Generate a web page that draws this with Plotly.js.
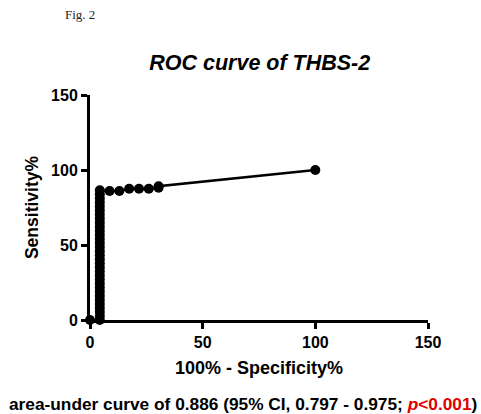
<!DOCTYPE html>
<html>
<head>
<meta charset="utf-8">
<script src="https://cdn.plot.ly/plotly-3.0.1.min.js"></script>
<style>html,body{margin:0;padding:0;background:#fff;}#chart{width:481px;height:414px;}</style>
</head>
<body>
<div id="chart"></div>
<script>
// ROC curve points: 100% - Specificity% (x) and Sensitivity% (y)
var specX = [0, 4.35, 4.35, 4.35, 4.35, 4.35, 4.35, 4.35, 4.35, 4.35, 4.35, 4.35,
  4.35, 4.35, 4.35, 4.35, 4.35, 4.35, 4.35, 4.35, 4.35, 4.35, 4.35, 4.35, 4.35,
  4.35, 4.35, 4.35, 4.35, 4.35, 4.35, 4.35, 4.35, 4.35,
  8.70, 13.04, 17.39, 21.74, 26.09, 30.43, 30.43, 100];
var sensY = [0, 0, 2.7, 5.4, 8.1, 10.8, 13.5, 16.2, 18.9, 21.6, 24.3, 27,
  29.7, 32.4, 35.1, 37.8, 40.5, 43.2, 45.9, 48.6, 51.4, 54.1, 56.8, 59.5, 62.2,
  64.9, 67.6, 70.3, 73, 75.7, 78.4, 81.1, 83.8, 86.5,
  86.0, 86.0, 87.5, 87.5, 87.5, 88.2, 89.2, 100];
var tickVals = [0, 50, 100, 150];
var tickText = ['0', '50', '100', '150'];

var font = 'Liberation Sans, Arial, Helvetica, sans-serif';
var boldTicks = tickText.map(function (t) { return '<b>' + t + '</b>'; });

var trace = {
  x: specX, y: sensY, type: 'scatter', mode: 'lines+markers',
  line: {color: '#000', width: 2.5},
  marker: {color: '#000', size: 10},
  cliponaxis: false, showlegend: false, hoverinfo: 'none'
};

var layout = {
  width: 481, height: 414,
  margin: {l: 90, r: 53, t: 95, b: 94},
  paper_bgcolor: '#fff', plot_bgcolor: '#fff',
  font: {family: font, color: '#000'},
  title: {text: '<b><i>ROC curve of THBS-2</i></b>', font: {size: 21.5, family: font, color: '#000'},
          x: 0.54, xanchor: 'center', y: 0.85, yanchor: 'middle'},
  xaxis: {
    range: [0, 150], tickvals: tickVals, ticktext: boldTicks,
    showline: true, linewidth: 3, linecolor: '#000', mirror: false,
    ticks: 'outside', ticklen: 6, tickwidth: 3, tickcolor: '#000',
    showgrid: false, zeroline: false,
    tickfont: {size: 16, family: font},
    title: {text: '<b>100% - Specificity%</b>', font: {size: 18, family: font}, standoff: 12}
  },
  yaxis: {
    range: [0, 150], tickvals: tickVals, ticktext: boldTicks,
    showline: true, linewidth: 3, linecolor: '#000',
    ticks: 'outside', ticklen: 6, tickwidth: 3, tickcolor: '#000',
    showgrid: false, zeroline: false,
    tickfont: {size: 16, family: font},
    title: {text: '<b>Sensitivity%</b>', font: {size: 17.5, family: font}, standoff: 8}
  },
  annotations: [
    {text: 'Fig. 2', xref: 'paper', yref: 'paper', x: -0.03, y: 1.356,
     xanchor: 'center', yanchor: 'middle', showarrow: false,
     font: {family: 'Liberation Serif, Times New Roman, serif', size: 13, color: '#222'}},
    {text: '<b>area-under curve of 0.886 (95% CI, 0.797 - 0.975; <span style="color:#e00000"><i>p</i>&lt;0.001</span>)</b>',
     xref: 'paper', yref: 'paper', x: 0.453, y: -0.373,
     xanchor: 'center', yanchor: 'middle', showarrow: false,
     font: {family: font, size: 17.3, color: '#000'}}
  ]
};

Plotly.newPlot('chart', [trace], layout, {displayModeBar: false, staticPlot: true});
</script>
</body>
</html>
